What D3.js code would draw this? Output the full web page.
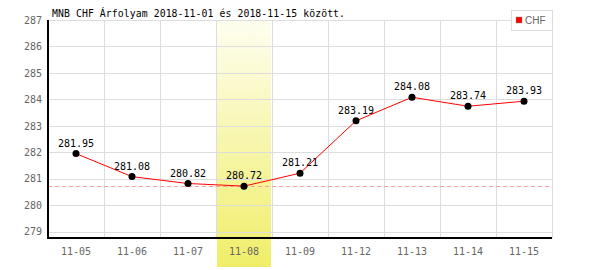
<!DOCTYPE html>
<html>
<head>
<meta charset="utf-8">
<script src="https://cdn.jsdelivr.net/npm/d3@7"></script>
<style>
body { margin: 0; background: #fff; }
svg text { font-family: "DejaVu Sans Mono", monospace; }
</style>
</head>
<body>
<svg id="vis"></svg>
<script>
const LINE_COLOUR = 'rgb(255, 0, 0)';
const GRID_COLOUR = 'rgb(221, 221, 221)';
const LABEL_COLOUR = 'rgb(102, 102, 102)';

var days = ['11-05', '11-06', '11-07', '11-08', '11-09', '11-12', '11-13', '11-14', '11-15'];
var rates = [281.95, 281.08, 280.82, 280.72, 281.21, 283.19, 284.08, 283.74, 283.93];
var yTicks = [279, 280, 281, 282, 283, 284, 285, 286, 287];
var highlightDay = '11-08';
var title = 'MNB CHF Árfolyam 2018-11-01 és 2018-11-15 között.';
var seriesName = 'CHF';

var width = 600, height = 270;
var svg = d3.select('#vis').attr('width', width).attr('height', height);

var x = d3.scaleBand().domain(days).range([48, 552]);
var y = d3.scaleLinear().domain([278.76, 287]).range([238, 20]);

// highlighted day background
var grad = svg.append('defs').append('linearGradient')
    .attr('id', 'hl').attr('x1', 0).attr('y1', 0).attr('x2', 0).attr('y2', 1);
grad.append('stop').attr('offset', '0%').attr('stop-color', '#fefef0');
grad.append('stop').attr('offset', '100%').attr('stop-color', '#f0ee68');
svg.append('rect')
    .attr('x', x(highlightDay) + 1).attr('y', 20)
    .attr('width', x.bandwidth() - 2).attr('height', 267 - 20)
    .attr('fill', 'url(#hl)');

// grid
var grid = svg.append('g');
grid.selectAll('line.h').data(yTicks).enter().append('line')
    .attr('x1', 48).attr('x2', 552)
    .attr('y1', d => Math.round(y(d)) + 0.5).attr('y2', d => Math.round(y(d)) + 0.5)
    .attr('stroke', GRID_COLOUR);
grid.selectAll('line.v').data(days).enter().append('line')
    .attr('x1', d => x(d) + x.bandwidth() + 0.5).attr('x2', d => x(d) + x.bandwidth() + 0.5)
    .attr('y1', 20).attr('y2', 238)
    .attr('stroke', GRID_COLOUR);

// minimum line
var minRate = d3.min(rates);
svg.append('line')
    .attr('x1', 48).attr('x2', 552)
    .attr('y1', Math.round(y(minRate)) + 0.5).attr('y2', Math.round(y(minRate)) + 0.5)
    .attr('stroke', 'rgb(255, 160, 160)').attr('stroke-dasharray', '4,3');

// axes
var yAxis = svg.append('g').attr('transform', 'translate(48,0)')
    .call(d3.axisLeft(y).tickValues(yTicks).tickSize(0).tickPadding(6).tickFormat(d3.format('d')));
yAxis.select('.domain').attr('stroke', '#000').attr('stroke-width', 2).attr('d', 'M0,20V238');
yAxis.selectAll('text').attr('fill', LABEL_COLOUR).style('font-size', '10px');

var xAxis = svg.append('g').attr('transform', 'translate(0,238)')
    .call(d3.axisBottom(x).tickSize(0).tickPadding(10));
xAxis.select('.domain').attr('stroke', '#000').attr('stroke-width', 2).attr('d', 'M47,0H552');
xAxis.selectAll('text').attr('fill', LABEL_COLOUR).style('font-size', '10px');

// series
var cx = (d, i) => x(days[i]) + x.bandwidth() / 2;
svg.append('path').datum(rates)
    .attr('d', d3.line().x(cx).y(d => y(d)))
    .attr('fill', 'none').attr('stroke', LINE_COLOUR).attr('stroke-width', 1);
svg.selectAll('circle.pt').data(rates).enter().append('circle')
    .attr('cx', cx).attr('cy', d => y(d)).attr('r', 3.5).attr('fill', '#000');
svg.selectAll('text.val').data(rates).enter().append('text')
    .attr('x', cx).attr('y', d => y(d) - 7)
    .attr('text-anchor', 'middle').style('font-size', '10px').attr('fill', '#000')
    .text(d => d.toFixed(2));

// title
svg.append('text').attr('x', 52).attr('y', 17)
    .style('font-size', '9.8px').attr('fill', '#000')
    .attr('textLength', 293).attr('lengthAdjust', 'spacing').text(title);

// legend
var legend = svg.append('g');
legend.append('rect').attr('x', 511.5).attr('y', 10.5).attr('width', 41).attr('height', 20)
    .attr('fill', '#fff').attr('stroke', GRID_COLOUR);
legend.append('rect').attr('x', 516).attr('y', 17).attr('width', 6).attr('height', 6)
    .attr('fill', LINE_COLOUR).attr('stroke', '#888').attr('stroke-width', 0.5);
legend.append('text').attr('x', 525).attr('y', 24)
    .style('font-family', '"Liberation Sans", Arial, sans-serif').style('font-size', '10px')
    .attr('fill', LABEL_COLOUR).text(seriesName);
</script>
</body>
</html>
